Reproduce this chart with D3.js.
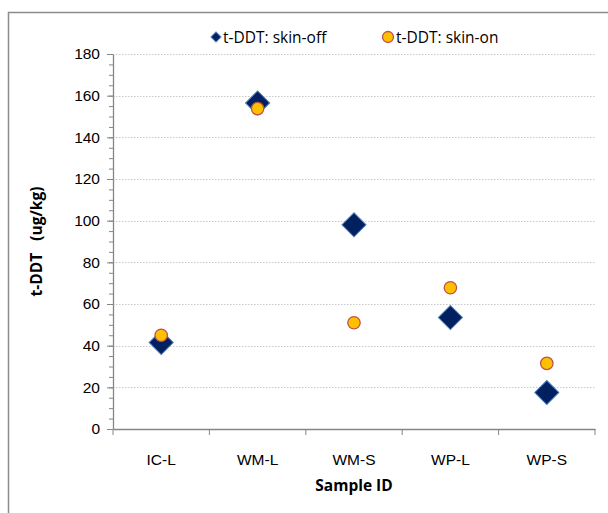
<!DOCTYPE html>
<html>
<head>
<meta charset="utf-8">
<script src="https://cdn.jsdelivr.net/npm/d3@7"></script>
<style>
  body { margin: 0; background: #fff; }
  svg { display: block; font-family: "Open Sans", "Liberation Sans", Arial, sans-serif; }
</style>
</head>
<body>
<script>
// data
var samples = ["IC-L", "WM-L", "WM-S", "WP-L", "WP-S"];
var skinOff = [41.5, 156.5, 98, 53.5, 17.5];
var skinOn = [45, 153.8, 51, 67.8, 31.5];
var yTicks = [0, 20, 40, 60, 80, 100, 120, 140, 160, 180];
var seriesNames = ["t-DDT: skin-off", "t-DDT: skin-on"];

var width = 608, height = 513;
var margin = {left: 113, right: 13, top: 54, bottom: 84};
var fs = 15.5;

var svg = d3.select("body").append("svg")
    .attr("width", width).attr("height", height);

// outer chart border (only left and top are visible in the frame)
svg.append("path")
    .attr("d", "M8.5," + (height + 5) + "V12.5H" + (width + 5))
    .attr("fill", "none")
    .attr("stroke", "#8c8c8c")
    .attr("stroke-width", 1.5);

var x = d3.scaleBand()
    .domain(samples)
    .range([margin.left, width - margin.right]);

var y = d3.scaleLinear()
    .domain([0, 180])
    .range([height - margin.bottom, margin.top]);

// gridlines
svg.append("g")
    .selectAll("line")
    .data(yTicks.filter(d => d > 0))
    .enter().append("line")
    .attr("x1", margin.left).attr("x2", width - margin.right)
    .attr("y1", d => Math.round(y(d)) + 0.5).attr("y2", d => Math.round(y(d)) + 0.5)
    .attr("stroke", "#c8c8c8")
    .attr("stroke-dasharray", "1.5,1.5");

// minor y ticks
svg.append("g")
    .attr("transform", "translate(" + margin.left + ",0)")
    .call(d3.axisLeft(y).ticks(36).tickSize(4).tickFormat(""))
    .call(g => g.select(".domain").remove())
    .selectAll("line").attr("stroke", "#868686");

// y axis
var yAxis = svg.append("g")
    .attr("transform", "translate(" + margin.left + ",0)")
    .call(d3.axisLeft(y).tickValues(yTicks).tickSize(6).tickPadding(7).tickSizeOuter(0));
yAxis.select(".domain").attr("stroke", "#868686").attr("stroke-width", 1.3);
yAxis.selectAll("line").attr("stroke", "#868686");
yAxis.selectAll("text").attr("font-size", fs).attr("fill", "#000");

// x axis with ticks at category boundaries
var xAxis = svg.append("g")
    .attr("transform", "translate(0," + y(0) + ")")
    .call(d3.axisBottom(x).tickSize(0).tickPadding(25));
xAxis.select(".domain").attr("stroke", "#868686").attr("stroke-width", 1.3);
xAxis.selectAll("text").attr("font-size", fs).attr("fill", "#000");

var bounds = samples.map(d => x(d)).concat([x.range()[1]]);
xAxis.selectAll(".bound")
    .data(bounds)
    .enter().append("line")
    .attr("class", "bound")
    .attr("x1", d => d).attr("x2", d => d)
    .attr("y1", 0).attr("y2", 6)
    .attr("stroke", "#868686");

// axis titles
svg.append("text")
    .attr("x", x.range()[0] + (x.range()[1] - x.range()[0]) / 2)
    .attr("y", 491)
    .attr("text-anchor", "middle")
    .attr("font-size", fs)
    .attr("font-weight", "bold")
    .text("Sample ID");

svg.append("text")
    .attr("transform", "translate(42," + y(90) + ") rotate(-90)")
    .attr("text-anchor", "middle")
    .attr("font-size", fs)
    .attr("font-weight", "bold")
    .attr("xml:space", "preserve")
    .text("t-DDT   (ug/kg)");

// skin-off diamonds
svg.append("g")
    .selectAll("path")
    .data(samples)
    .enter().append("path")
    .attr("d", d3.symbol().type(d3.symbolSquare).size(290))
    .attr("transform", (d, i) => "translate(" + (x(d) + x.bandwidth() / 2) + "," + y(skinOff[i]) + ") rotate(45)")
    .attr("fill", "#002060")
    .attr("stroke", "#4a7ebb")
    .attr("stroke-width", 1);

// skin-on circles
svg.append("g")
    .selectAll("circle")
    .data(samples)
    .enter().append("circle")
    .attr("cx", d => x(d) + x.bandwidth() / 2)
    .attr("cy", (d, i) => y(skinOn[i]))
    .attr("r", 6.2)
    .attr("fill", "#ffc000")
    .attr("stroke", "#c0504d")
    .attr("stroke-width", 1.3);

// legend
var legend = svg.append("g");
legend.append("path")
    .attr("d", d3.symbol().type(d3.symbolSquare).size(50))
    .attr("transform", "translate(216,37) rotate(45)")
    .attr("fill", "#002060")
    .attr("stroke", "#4a7ebb");
legend.append("text")
    .attr("x", 223).attr("y", 42.5)
    .attr("font-size", fs)
    .text(seriesNames[0]);
legend.append("circle")
    .attr("cx", 388).attr("cy", 37).attr("r", 5.5)
    .attr("fill", "#ffc000")
    .attr("stroke", "#c0504d")
    .attr("stroke-width", 1.3);
legend.append("text")
    .attr("x", 396).attr("y", 42.5)
    .attr("font-size", fs)
    .text(seriesNames[1]);
</script>
</body>
</html>
